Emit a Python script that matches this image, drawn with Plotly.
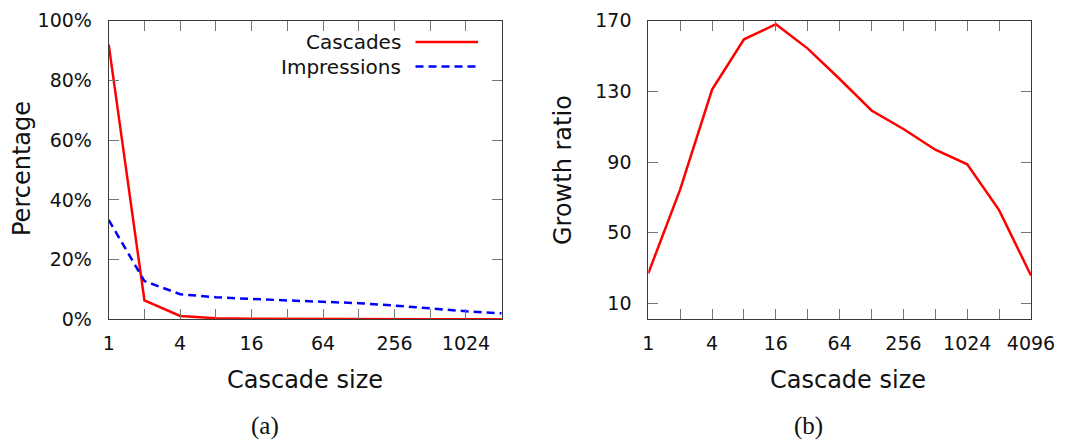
import math
import plotly.graph_objects as go

# Cascade sizes (powers of two)
sizes_a = [1, 2, 4, 8, 16, 32, 64, 128, 256, 512, 1024, 2048]
sizes_b = [1, 2, 4, 8, 16, 32, 64, 128, 256, 512, 1024, 2048, 4096]

# (a) share of cascades and impressions per cascade size, in percent
cascades_pct = [92.0, 6.3, 1.1, 0.35, 0.15, 0.08, 0.05, 0.03, 0.02, 0.01, 0.01, 0.01]
impressions_pct = [33.3, 12.8, 8.4, 7.4, 6.8, 6.4, 5.9, 5.4, 4.6, 3.6, 2.7, 2.0]

# (b) growth ratio per cascade size
growth_ratio = [27.0, 74.5, 131.0, 159.5, 168.0, 154.2, 137.0, 119.2, 108.7, 97.0, 88.7, 62.8, 25.8]

# Tick labels
xtick_vals_a = sizes_a
xtick_text_a = ["1", "", "4", "", "16", "", "64", "", "256", "", "1024", ""]
xtick_vals_b = sizes_b
xtick_text_b = ["1", "", "4", "", "16", "", "64", "", "256", "", "1024", "", "4096"]
ytick_vals_a = [0, 20, 40, 60, 80, 100]
ytick_text_a = ["0%", "20%", "40%", "60%", "80%", "100%"]
ytick_vals_b = [10, 50, 90, 130, 170]

W, H = 1076, 443
FONT = "DejaVu Sans, Verdana, sans-serif"
RED = "#ff0000"
BLUE = "#0000ff"
FRAME = "#3a3a3a"
TICK = "#777777"
LW = 2.5


def px(x):
    return x / W


def py(y):
    return 1 - y / H


fig = go.Figure()

fig.add_trace(go.Scatter(x=sizes_a, y=cascades_pct, mode="lines", name="Cascades",
                         line=dict(color=RED, width=LW), xaxis="x", yaxis="y",
                         showlegend=False))
fig.add_trace(go.Scatter(x=sizes_a, y=impressions_pct, mode="lines", name="Impressions",
                         line=dict(color=BLUE, width=LW, dash="8px,5px"),
                         xaxis="x", yaxis="y", showlegend=False))
fig.add_trace(go.Scatter(x=sizes_b, y=growth_ratio, mode="lines", name="Growth ratio",
                         line=dict(color=RED, width=LW), xaxis="x2", yaxis="y2",
                         showlegend=False))

tickfont = dict(family=FONT, size=19, color="#111111")
common = dict(showgrid=False, zeroline=False, showline=True, linecolor=FRAME, linewidth=1,
              mirror="ticks", ticks="inside", ticklen=10, tickcolor=TICK, tickwidth=1,
              tickfont=tickfont, automargin=False)

fig.update_layout(
    template="none",
    width=W, height=H,
    margin=dict(l=0, r=0, t=0, b=0, autoexpand=False),
    paper_bgcolor="white", plot_bgcolor="white",
    font=dict(family=FONT),
    xaxis=dict(type="log", range=[0, math.log10(2048)], domain=[px(108.7), px(501.7)],
               tickvals=xtick_vals_a, ticktext=xtick_text_a, anchor="y",
               ticklabelstandoff=7, **common),
    yaxis=dict(range=[0, 100], domain=[py(319.3), py(20.7)],
               tickvals=ytick_vals_a, ticktext=ytick_text_a, anchor="x",
               ticklabelstandoff=12, **common),
    xaxis2=dict(type="log", range=[0, math.log10(4096)], domain=[px(648.3), px(1031.0)],
                tickvals=xtick_vals_b, ticktext=xtick_text_b, anchor="y2",
                ticklabelstandoff=7, **common),
    yaxis2=dict(range=[1, 170], domain=[py(319.3), py(20.7)],
                tickvals=ytick_vals_b, anchor="x2",
                ticklabelstandoff=12, **common),
)

titlefont = dict(family=FONT, size=24, color="#111111")
capfont = dict(family="Liberation Serif, Times New Roman, serif", size=25, color="#111111")

annotations = [
    dict(text="Cascade size", x=px(305), y=py(380), font=titlefont),
    dict(text="Percentage", x=px(22), y=py(169), textangle=-90, font=titlefont),
    dict(text="Cascade size", x=px(848), y=py(380), font=titlefont),
    dict(text="Growth ratio", x=px(563), y=py(170), textangle=-90, font=titlefont),
    dict(text="(a)", x=px(265), y=py(426), font=capfont),
    dict(text="(b)", x=px(808), y=py(426), font=capfont),
    dict(text="Cascades", x=px(403), y=py(42), xanchor="right",
         font=dict(family=FONT, size=20, color="#111111")),
    dict(text="Impressions", x=px(403), y=py(66.5), xanchor="right",
         font=dict(family=FONT, size=20, color="#111111")),
]
for a in annotations:
    a.setdefault("xanchor", "center")
    a.update(xref="paper", yref="paper", yanchor="middle", showarrow=False)
fig.update_layout(annotations=annotations)

# Legend key samples
fig.add_shape(type="line", xref="paper", yref="paper", x0=px(415.5), x1=px(478),
              y0=py(42), y1=py(42), line=dict(color=RED, width=LW))
fig.add_shape(type="line", xref="paper", yref="paper", x0=px(415.5), x1=px(478),
              y0=py(66.5), y1=py(66.5), line=dict(color=BLUE, width=LW, dash="8px,5px"))

fig.write_html("out.html")
